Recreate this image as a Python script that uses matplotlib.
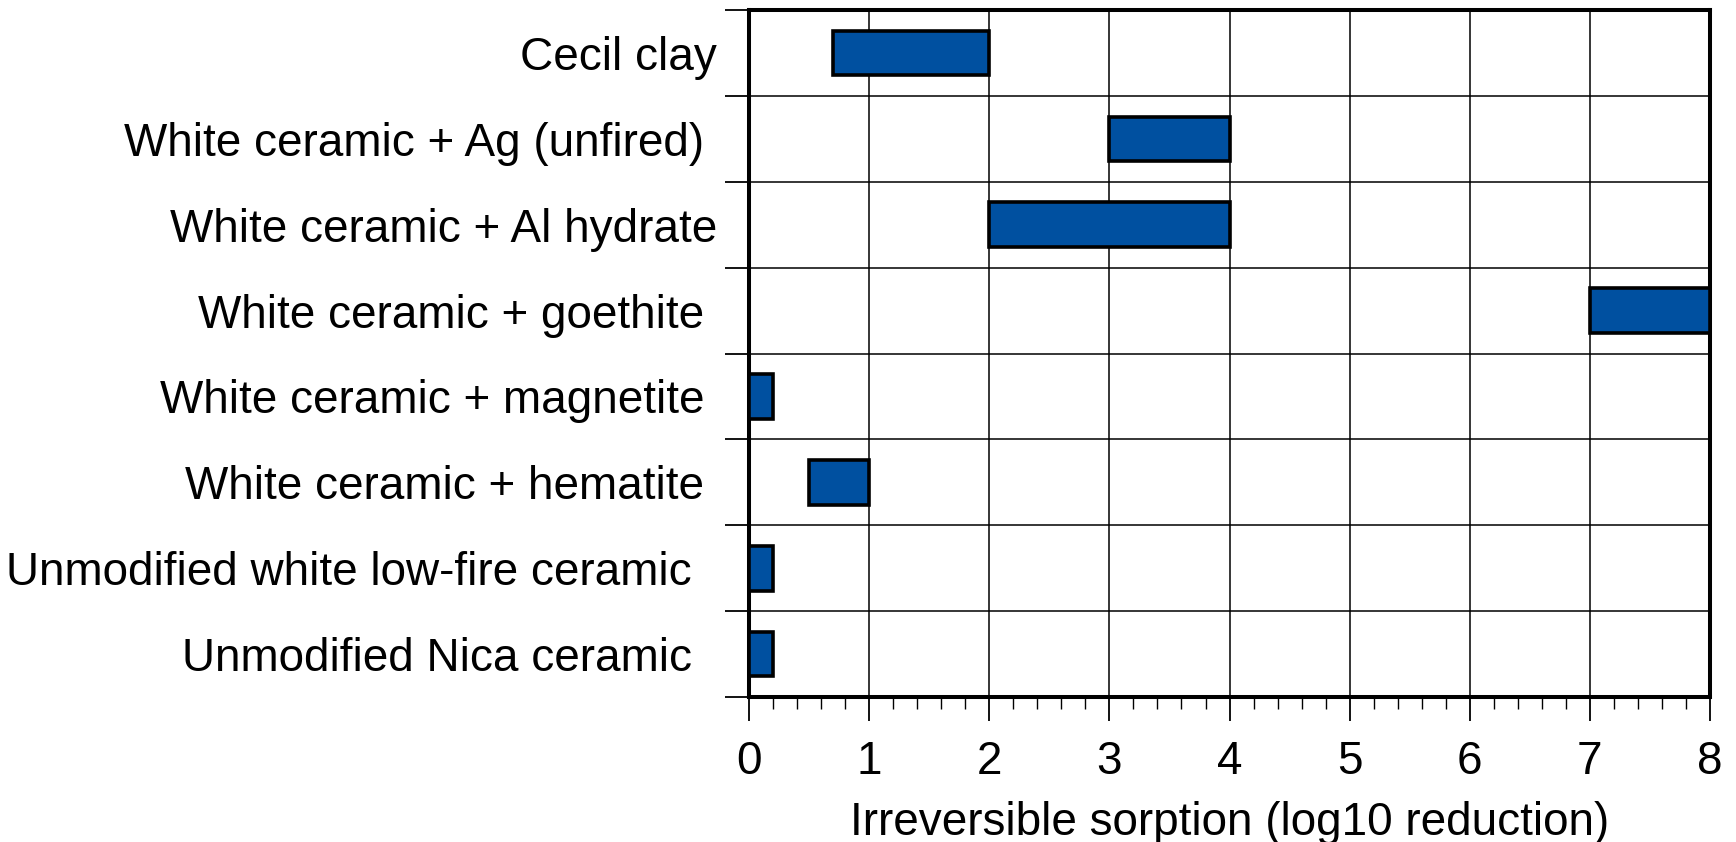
import matplotlib.pyplot as plt
from matplotlib.ticker import MultipleLocator, FixedLocator

# Categories from top to bottom, with range of irreversible sorption.
materials = [
    "Cecil clay",
    "White ceramic + Ag (unfired) ",
    "White ceramic + Al hydrate",
    "White ceramic + goethite ",
    "White ceramic + magnetite ",
    "White ceramic + hematite ",
    "Unmodified white low-fire ceramic  ",
    "Unmodified Nica ceramic  ",
]
low_values = [0.7, 3.0, 2.0, 7.0, 0.0, 0.5, 0.0, 0.0]
high_values = [2.0, 4.0, 4.0, 8.0, 0.2, 1.0, 0.2, 0.2]

plt.rcParams["font.family"] = ["Liberation Sans", "DejaVu Sans"]

fig = plt.figure(figsize=(17.36, 8.42), dpi=100)
ax = fig.add_axes([0.4315, 0.1722, 0.9850 - 0.4315, 0.988 - 0.1722])

n = len(materials)
positions = [n - 1 - i for i in range(n)]
widths = [h - l for l, h in zip(low_values, high_values)]
ax.barh(positions, widths, left=low_values, height=0.52,
        color="#0050a0", edgecolor="black", linewidth=2.6, zorder=3)

ax.set_xlim(0, 8)
ax.set_ylim(-0.5, n - 0.5)

# X axis: integer majors with gridlines, minor ticks every 0.2.
ax.xaxis.set_major_locator(MultipleLocator(1))
ax.xaxis.set_minor_locator(MultipleLocator(0.2))
ax.tick_params(axis="x", which="major", direction="out", length=17,
               width=1.3, labelsize=33, pad=14)
ax.tick_params(axis="x", which="minor", direction="out", length=8.5,
               width=1.0)

# Y axis: ticks on category boundaries, labels at category centres.
ax.yaxis.set_major_locator(FixedLocator([i - 0.5 for i in range(n + 1)]))
ax.yaxis.set_major_formatter(plt.NullFormatter())
ax.yaxis.set_minor_locator(FixedLocator(positions))
ax.set_yticklabels(materials, minor=True)
ax.tick_params(axis="y", which="major", direction="out", length=17,
               width=1.3)
ax.tick_params(axis="y", which="minor", length=0, labelsize=33, pad=23)

ax.grid(True, which="major", color="black", linewidth=1.1, zorder=0)
ax.set_axisbelow(True)

for spine in ax.spines.values():
    spine.set_linewidth(2.9)

ax.set_xlabel("Irreversible sorption (log10 reduction)", fontsize=33,
              labelpad=12)

plt.savefig("out.png", dpi=100)
plt.close()
